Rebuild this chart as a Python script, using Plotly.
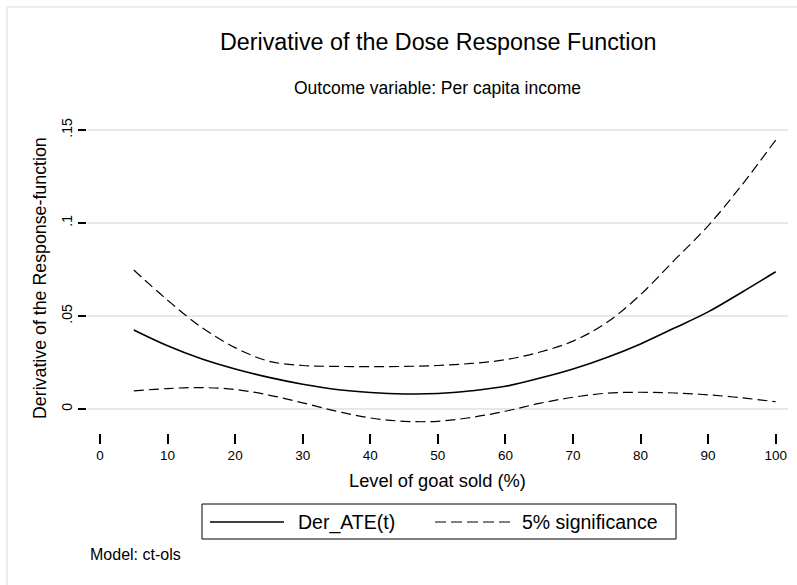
import plotly.graph_objects as go

# Treatment level (% of goats sold)
dose = [5, 10, 15, 20, 25, 30, 35, 40, 45, 50, 55, 60, 65, 70, 75, 80, 85, 90, 95, 100]

# Derivative of the dose-response function
der_ate = [0.0425, 0.0340, 0.0270, 0.0215, 0.0170, 0.0133, 0.0105, 0.0089, 0.0081, 0.0083,
           0.0098, 0.0122, 0.0165, 0.0215, 0.0277, 0.0350, 0.0435, 0.0522, 0.0628, 0.0738]

# 5% significance bounds
upper = [0.0747, 0.0585, 0.0440, 0.0330, 0.0257, 0.0234, 0.0229, 0.0228, 0.0229, 0.0234,
         0.0245, 0.0265, 0.0305, 0.0365, 0.0465, 0.0615, 0.0800, 0.0985, 0.1205, 0.1446]
lower = [0.0097, 0.0110, 0.0115, 0.0105, 0.0075, 0.0033, -0.0012, -0.0048, -0.0066, -0.0066,
         -0.0045, -0.0012, 0.0030, 0.0063, 0.0085, 0.0090, 0.0086, 0.0076, 0.0060, 0.0039]

x_ticks = [0, 10, 20, 30, 40, 50, 60, 70, 80, 90, 100]
y_ticks = [0, 0.05, 0.10, 0.15]
y_tick_text = ["0", ".05", ".1", ".15"]

FONT = "Liberation Sans, Arial, Helvetica, sans-serif"
INK = "#000000"
DASH = "10px,5px"

fig = go.Figure()
fig.add_trace(go.Scatter(x=dose, y=der_ate, mode="lines", name="Der_ATE(t)",
                         line=dict(color=INK, width=1.6, shape="spline")))
fig.add_trace(go.Scatter(x=dose, y=upper, mode="lines", name="5% significance",
                         line=dict(color=INK, width=1.2, dash=DASH, shape="spline")))
fig.add_trace(go.Scatter(x=dose, y=lower, mode="lines", name="5% significance",
                         showlegend=False,
                         line=dict(color=INK, width=1.2, dash=DASH, shape="spline")))

# Plot area geometry in pixels (used to place the notes and the key)
L, R, T, B = 87, 788, 121, 433
W, H = R - L, B - T


def px(x):
    return (x - L) / W


def py(y):
    return (B - y) / H


annotations = [
    dict(text="Derivative of the Dose Response Function", x=px(437.5), y=py(42),
         font=dict(size=23.3, color=INK, family=FONT)),
    dict(text="Outcome variable: Per capita income", x=px(437.5), y=py(88),
         font=dict(size=17.5, color=INK, family=FONT)),
    dict(text="Derivative of the Response-function", x=px(40), y=py(278), textangle=-90,
         font=dict(size=17.8, color=INK, family=FONT)),
    dict(text="Level of goat sold (%)", x=px(437), y=py(481),
         font=dict(size=18.3, color=INK, family=FONT)),
    dict(text="Model: ct-ols", x=px(88), y=py(554), xanchor="left",
         font=dict(size=16, color=INK, family=FONT)),
    dict(text="Der_ATE(t)", x=px(296), y=py(522), xanchor="left",
         font=dict(size=19.5, color=INK, family=FONT)),
    dict(text="5% significance", x=px(520), y=py(522), xanchor="left",
         font=dict(size=19.5, color=INK, family=FONT)),
]
for a in annotations:
    a.update(xref="paper", yref="paper", showarrow=False)
    a.setdefault("xanchor", "center")
    a.setdefault("yanchor", "middle")

shapes = [
    # faint outer frame
    dict(type="line", x0=px(7), x1=px(800), y0=py(7), y1=py(7),
         line=dict(color="#ececec", width=2)),
    dict(type="line", x0=px(7), x1=px(7), y0=py(7), y1=py(590),
         line=dict(color="#ececec", width=2)),
    # key box and samples
    dict(type="rect", x0=px(202), x1=px(676), y0=py(539), y1=py(504),
         line=dict(color=INK, width=1), fillcolor="rgba(0,0,0,0)"),
    dict(type="line", x0=px(210), x1=px(284), y0=py(522), y1=py(522),
         line=dict(color=INK, width=1.6)),
    dict(type="line", x0=px(435), x1=px(510), y0=py(522), y1=py(522),
         line=dict(color=INK, width=1.2, dash="11px,5px")),
]
for s in shapes:
    s.update(xref="paper", yref="paper")

fig.update_layout(
    width=797, height=585,
    margin=dict(l=L, r=797 - R, t=T, b=585 - B),
    paper_bgcolor="white", plot_bgcolor="white",
    showlegend=False,
    font=dict(family=FONT, color=INK),
    annotations=annotations,
    shapes=shapes,
)
fig.update_xaxes(
    range=[(L - 100) / 6.757, (R - 100) / 6.757],
    tickvals=x_ticks, ticks="outside", ticklen=10, tickwidth=2, tickcolor=INK,
    tickfont=dict(size=13.5, color=INK, family=FONT),
    showgrid=False, zeroline=False, showline=False,
)
fig.update_yaxes(
    range=[(409 - B) / 1860, (409 - T) / 1860],
    tickvals=y_ticks, ticktext=y_tick_text, tickangle=-90,
    ticks="outside", ticklen=8, tickwidth=2, tickcolor=INK,
    tickfont=dict(size=14, color=INK, family=FONT),
    showgrid=True, gridcolor="#e8e8e8", gridwidth=2,
    zeroline=False, showline=False,
)

fig.write_html("out.html")
